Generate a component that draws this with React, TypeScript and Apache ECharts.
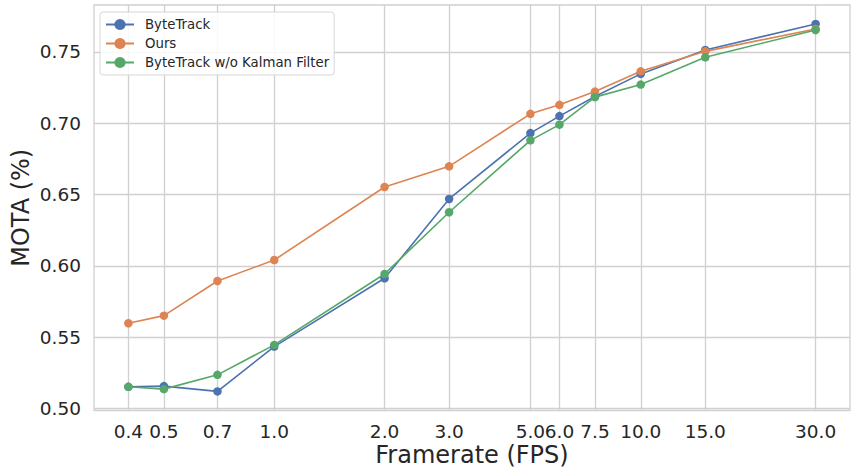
import React, { useEffect, useRef } from "react";
import * as echarts from "echarts";

const framerates = [0.4, 0.5, 0.7, 1.0, 2.0, 3.0, 5.0, 6.0, 7.5, 10.0, 15.0, 30.0];
const byteTrack = [0.5152, 0.5157, 0.5120, 0.5434, 0.5913, 0.6469, 0.6931, 0.7050, 0.7187, 0.7346, 0.7514, 0.7696];
const ours = [0.5598, 0.5651, 0.5894, 0.6041, 0.6553, 0.6698, 0.7066, 0.7129, 0.7222, 0.7364, 0.7504, 0.7661];
const byteTrackNoKF = [0.5152, 0.5136, 0.5236, 0.5446, 0.5943, 0.6376, 0.6880, 0.6990, 0.7183, 0.7271, 0.7462, 0.7654];
const yTicks = [0.5, 0.55, 0.6, 0.65, 0.7, 0.75];

const FONT = "DejaVu Sans";
const TXT = "#262626";
const GRID = "#d0d0d0";

export default function App() {
  const ref = useRef<HTMLDivElement>(null);
  useEffect(() => {
    if (!ref.current) return;
    const chart = echarts.init(ref.current, null, { renderer: "svg" });
    const mk = (name: string, vals: number[], color: string) => ({
      name,
      type: "line",
      data: framerates.map((x, i) => [x, vals[i]]),
      symbol: "circle",
      symbolSize: 8.5,
      lineStyle: { color, width: 1.6 },
      itemStyle: { color },
      z: 3,
    });
    chart.setOption({
      animation: false,
      backgroundColor: "#ffffff",
      textStyle: { fontFamily: FONT },
      grid: {
        left: 94, right: 1, top: 5, bottom: 57.5,
        containLabel: false,
        outerBoundsMode: "none",
        show: true, borderColor: GRID, borderWidth: 1.3, backgroundColor: "transparent",
      },
      legend: {
        orient: "vertical",
        left: 100,
        top: 12,
        padding: [6, 5, 6, 5],
        itemGap: 6,
        itemWidth: 28,
        itemHeight: 14,
        borderColor: "#d6d6d6",
        borderWidth: 1,
        borderRadius: 3,
        backgroundColor: "rgba(255,255,255,0.85)",
        textStyle: { fontFamily: FONT, fontSize: 13.3, color: TXT, padding: [0, 0, 0, 6] },
        data: ["ByteTrack", "Ours", "ByteTrack w/o Kalman Filter"],
      },
      xAxis: {
        type: "log",
        logBase: 10,
        min: 0.3223,
        max: 37.23,
        name: "Framerate (FPS)",
        nameLocation: "middle",
        nameGap: 31,
        nameMoveOverlap: false,
        nameTextStyle: { fontFamily: FONT, fontSize: 24, color: TXT, lineHeight: 26 },
        axisLine: { show: false },
        axisTick: { show: false, customValues: framerates },
        axisLabel: {
          customValues: framerates,
          fontFamily: FONT,
          fontSize: 18.5,
          color: TXT,
          margin: 11,
          hideOverlap: false,
          formatter: (v: number) => Number(v).toFixed(1),
        },
        splitLine: { show: true, lineStyle: { color: GRID, width: 1.3 } },
        minorSplitLine: { show: false },
      },
      yAxis: {
        type: "value",
        min: 0.4986,
        max: 0.7829,
        name: "MOTA (%)",
        nameLocation: "middle",
        nameGap: 60,
        nameMoveOverlap: false,
        nameTextStyle: { fontFamily: FONT, fontSize: 24, color: TXT, lineHeight: 26 },
        axisLine: { show: false },
        axisTick: { show: false, customValues: yTicks },
        axisLabel: {
          customValues: yTicks,
          fontFamily: FONT,
          fontSize: 18.5,
          color: TXT,
          margin: 13,
          formatter: (v: number) => Number(v).toFixed(2),
        },
        splitLine: { show: true, lineStyle: { color: GRID, width: 1.3 } },
      },
      series: [
        mk("ByteTrack", byteTrack, "#4c72b0"),
        mk("Ours", ours, "#dd8452"),
        mk("ByteTrack w/o Kalman Filter", byteTrackNoKF, "#55a868"),
      ],
    });
    return () => chart.dispose();
  }, []);
  return <div ref={ref} style={{ position: "fixed", left: 0, top: 0, width: 851, height: 468 }} />;
}
